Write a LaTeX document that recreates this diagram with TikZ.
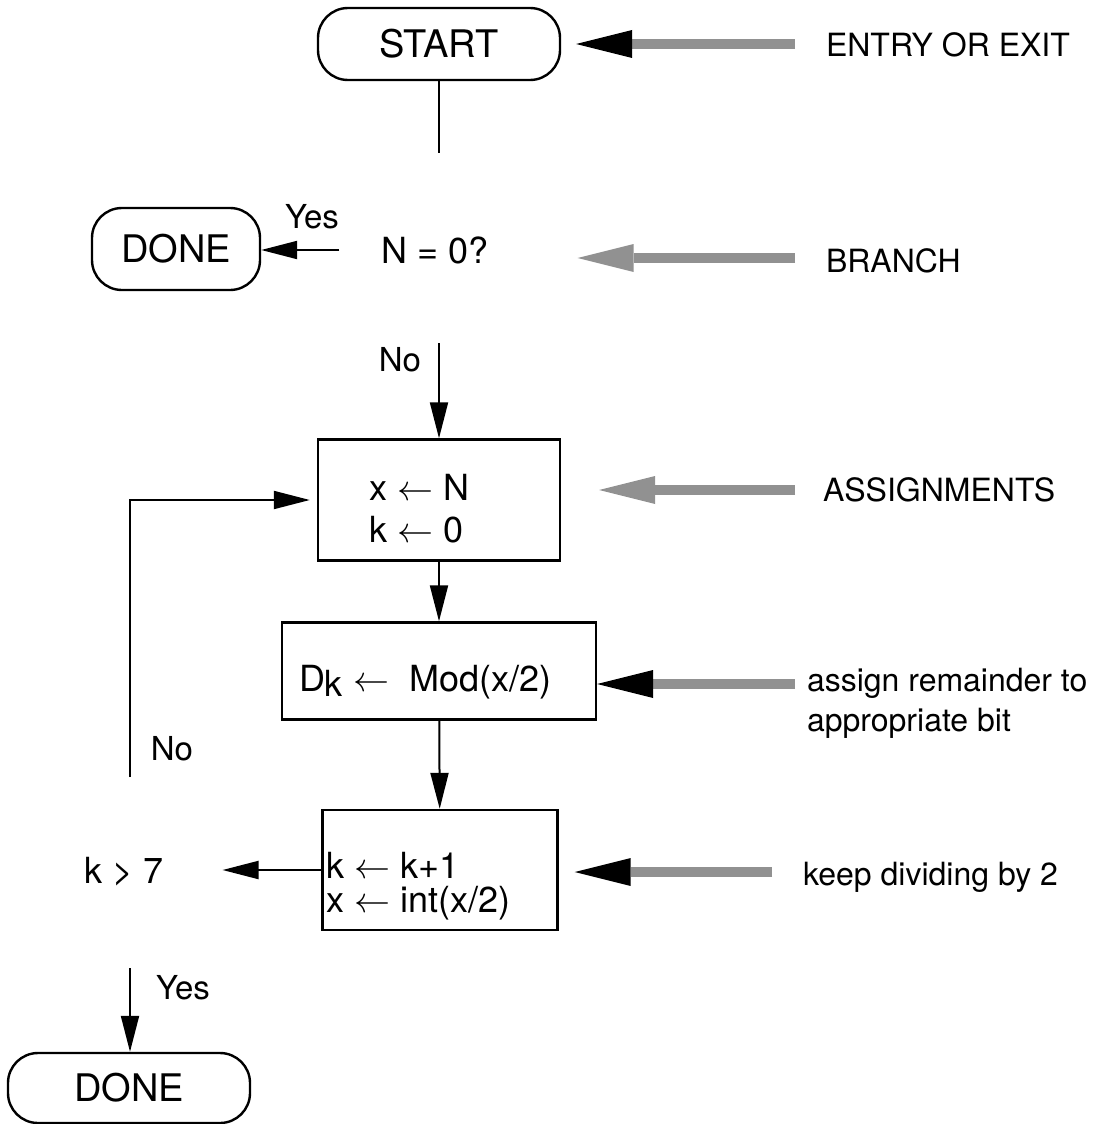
\RequirePackage{fix-cm}
\documentclass[tikz,border=0pt]{standalone}
\usepackage{fontspec}
\setmainfont{TeX Gyre Heros}
\usetikzlibrary{arrows.meta}
\definecolor{bargray}{gray}{0.57}

\begin{document}
\begin{tikzpicture}[x=1pt,y=-1pt,line width=2pt,
    term node/.style={draw,rounded corners=30pt,line width=2.4pt,inner sep=0pt,
                      font=\fontsize{38}{44}\selectfont},
    box node/.style={draw,line width=2.4pt,inner sep=0pt},
    txt/.style={inner sep=0pt,font=\fontsize{32}{42}\selectfont},
    big/.style={inner sep=0pt,font=\fontsize{36}{42}\selectfont},
    small/.style={inner sep=0pt,font=\fontsize{33}{38}\selectfont},
    flow/.style={-{Triangle[length=36pt,width=18pt]}},
    pointer/.style={line width=10pt,bargray,-{Triangle[length=56pt,width=28pt,line width=0pt,color=black]}},
    graypointer/.style={line width=10pt,bargray,-{Triangle[length=56pt,width=28pt,line width=0pt]}}]

  \useasboundingbox (0,0) rectangle (1095,1124);

  % flow chart
  \node[term node,minimum width=242pt,minimum height=72pt] (start) at (439,44) {START};
  \node[term node,minimum width=168pt,minimum height=82pt] (done1) at (176,249) {DONE};
  \node[big] (test1) at (435,250) {N = 0?};
  \node[small] (yes1) at (312,217) {Yes};
  \node[small] (no1) at (400,360) {No};

  \node[box node,minimum width=242pt,minimum height=121pt] (init) at (439,500) {};
  \node[big,anchor=west,align=left] (inittxt) at (368,509) {x $\leftarrow$ N\\k $\leftarrow$ 0};

  \node[box node,minimum width=314pt,minimum height=97pt] (mod) at (439,671) {};
  \node[big,anchor=west] (modtxt) at (298,682) {D\raisebox{-0.3ex}{k} $\leftarrow$\ \ Mod(x/2)};

  \node[box node,minimum width=235pt,minimum height=120pt] (upd) at (440,870) {};
  \node[big,anchor=west,align=left,font=\fontsize{36}{34}\selectfont] (updtxt) at (325,886)
    {k $\leftarrow$ k+1\\x $\leftarrow$ int(x/2)};

  \node[big] (kt) at (124,872) {k > 7};
  \node[small] (no2) at (172,749) {No};
  \node[small] (yes2) at (183,988) {Yes};
  \node[term node,minimum width=242pt,minimum height=70pt] (done2) at (129,1088) {DONE};

  % remarks
  \node[txt,anchor=west] (entry) at (825,45) {ENTRY OR EXIT};
  \node[txt,anchor=west] (branch) at (825,261) {BRANCH};
  \node[txt,anchor=west] (assign) at (822,490) {ASSIGNMENTS};
  \node[txt,anchor=west,align=left,font=\fontsize{32}{40}\selectfont] (remark) at (806,703)
    {assign remainder to\\appropriate bit};
  \node[txt,anchor=west] (keep) at (802,877) {keep dividing by 2};

  \coordinate (s1) at (439,153);
  \coordinate (n1) at (439,343);
  \coordinate (loop) at (130,777);
  \coordinate (y2) at (130,968);

  \draw (start) -- (s1);
  \draw[flow,shorten <=41pt] (test1.west) -- (test1.west -| done1.east);
  \draw[flow] (n1) -- (init);
  \draw[flow] (init) -- (mod);
  \draw[flow] (mod) -- (upd);
  \draw[flow,shorten >=58pt] (upd.west) -- (upd.west -| kt.east);
  \draw[flow,shorten >=7pt] (loop) |- (init.west);
  \draw[flow] (y2) -- (y2 |- done2.north);

  \coordinate (pA) at (795,44);
  \coordinate (pB) at (795,258);
  \coordinate (pC) at (795,490);
  \coordinate (pD) at (795,684);
  \coordinate (pE) at (772,872);

  \draw[pointer,shorten >=15pt] (pA) -- (pA -| start.east);
  \draw[graypointer,shorten >=88pt] (pB) -- (pB -| test1.east);
  \draw[graypointer,shorten >=38pt] (pC) -- (pC -| init.east);
  \draw[pointer] (pD) -- (pD -| mod.east);
  \draw[pointer,shorten >=16pt] (pE) -- (pE -| upd.east);
\end{tikzpicture}
\end{document}
